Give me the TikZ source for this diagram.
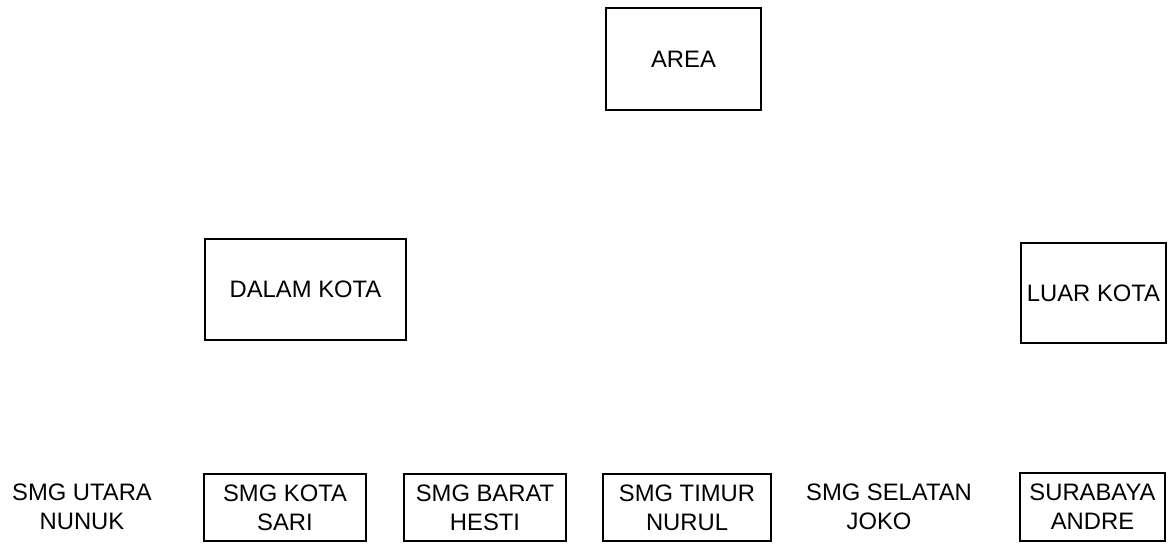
\documentclass[tikz,border=0pt]{standalone}
\usepackage{fontspec}
\setmainfont{Liberation Sans}
\begin{document}
\begin{tikzpicture}[x=1pt,y=-1pt,
  box/.style={draw, line width=1.5pt, inner sep=0pt, align=center},
  lbl/.style={inner sep=0pt, align=center},
  every node/.style={font=\fontsize{23.8}{29}\selectfont}]
\useasboundingbox[fill=white] (0,0) rectangle (1169,546);
\node[box, minimum width=155pt, minimum height=102pt] (area) at (683.5,59) {AREA};
\node[box, minimum width=201pt, minimum height=101pt] (dalam) at (305.5,289.5) {DALAM KOTA};
\node[box, minimum width=145pt, minimum height=100pt] (luar) at (1093.5,293) {LUAR KOTA};
\node[lbl] (utara) at (82,507) {SMG UTARA\\NUNUK};
\node[box, minimum width=162pt, minimum height=67pt] (kota) at (285,507.5) {SMG KOTA\\SARI};
\node[box, minimum width=162pt, minimum height=67pt] (barat) at (485,507.5) {SMG BARAT\\HESTI};
\node[box, minimum width=168pt, minimum height=67pt] (timur) at (687,507.5) {SMG TIMUR\\NURUL};
\node[lbl] (selatan) at (889,507) {SMG SELATAN\\JOKO\hspace*{20pt}};
\node[box, minimum width=145pt, minimum height=68pt] (surabaya) at (1092.5,507) {SURABAYA\\ANDRE};
\end{tikzpicture}
\end{document}
